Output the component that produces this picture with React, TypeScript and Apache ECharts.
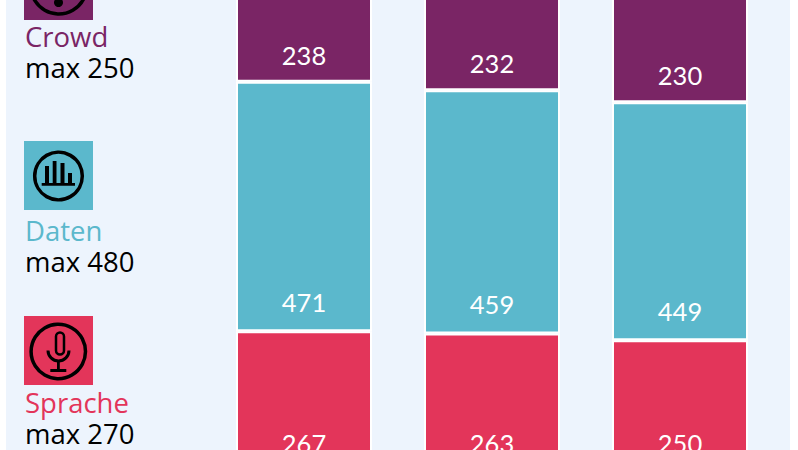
import React, { useEffect, useRef } from "react";
import * as echarts from "echarts";

const categories = ["A", "B", "C"];
const sprache = [267, 263, 250];
const daten = [471, 459, 449];
const crowd = [238, 232, 230];
const legendNames = ["Crowd", "Daten", "Sprache"];
const legendMax = ["max 250", "max 480", "max 270"];

const PURPLE = "#7A2565";
const TEAL = "#5BB8CC";
const RED = "#E3355A";
const PANEL = "#EDF4FD";
const OFFSET = 60;

const bar = (name: string, data: number[], color: string, dist: number) => ({
  name,
  type: "bar",
  stack: "total",
  data,
  barWidth: 136,
  itemStyle: { color, borderColor: "#fff", borderWidth: 2 },
  label: {
    show: true,
    position: "insideBottom",
    distance: dist,
    color: "#fff",
    fontFamily: "Lato",
    fontSize: 25.5,
    lineHeight: 28,
  },
});

const blk = (x: number, y: number, width: number, height: number) => ({
  type: "rect",
  shape: { x, y, width, height },
  style: { fill: "#000" },
});

const square = (y: number, color: string, cx: number, cy: number, r: number, children: any[]) => ({
  type: "group",
  x: 24,
  y,
  children: [
    { type: "rect", shape: { x: 0, y: 0, width: 69, height: 69 }, style: { fill: color } },
    { type: "circle", shape: { cx, cy, r }, style: { fill: "none", stroke: "#000", lineWidth: 3.5 } },
    ...children,
  ],
});

const txt = (x: number, y: number, text: string, fill: string) => ({
  type: "text",
  x,
  y,
  style: { text, fill, font: "27.5px 'Open Sans'" },
});

export default function App() {
  const ref = useRef<HTMLDivElement>(null);
  useEffect(() => {
    const chart = echarts.init(ref.current!, null, { renderer: "svg" });
    chart.setOption({
      animation: false,
      backgroundColor: "#fff",
      grid: { left: 210, width: 564, top: OFFSET - 57.2, height: 530 },
      xAxis: { type: "category", data: categories, show: false },
      yAxis: { type: "value", min: 0, max: 1000, show: false },
      graphic: [
        {
          type: "group",
          x: 0,
          y: OFFSET,
          z: -10,
          children: [
            { type: "rect", shape: { x: 6, y: -OFFSET, width: 784, height: 600 }, style: { fill: PANEL } },
            square(-49, PURPLE, 34.8, 35, 28, [
              { type: "circle", shape: { cx: 34.5, cy: 51.5, r: 4.5 }, style: { fill: "#000" } },
            ]),
            square(141, TEAL, 34.5, 35, 23.8, [
              blk(17.7, 42, 33.3, 2.7),
              blk(21, 25, 4, 17),
              blk(28.7, 20, 3.8, 22),
              blk(36.5, 22, 4, 20),
              blk(44, 32, 4, 10),
            ]),
            square(316, RED, 34.3, 35.5, 27.2, [
              {
                type: "rect",
                shape: { x: 32, y: 16.5, width: 8, height: 22, r: 4 },
                style: { fill: "none", stroke: "#000", lineWidth: 2.5 },
              },
              {
                type: "arc",
                shape: { cx: 34.5, cy: 34.5, r: 10.5, startAngle: 0, endAngle: Math.PI, clockwise: true },
                style: { fill: "none", stroke: "#000", lineWidth: 3 },
              },
              blk(33, 45, 2.8, 9),
              blk(26.3, 53, 16, 3),
            ]),
            txt(25, 22, legendNames[0], PURPLE),
            txt(25, 53, legendMax[0], "#000"),
            txt(25, 216, legendNames[1], TEAL),
            txt(25, 247, legendMax[1], "#000"),
            txt(25, 388, legendNames[2], RED),
            txt(25, 419, legendMax[2], "#000"),
          ],
        },
      ],
      series: [bar("Sprache", sprache, RED, 16), bar("Daten", daten, TEAL, 15), bar("Crowd", crowd, PURPLE, 13)],
    });
    return () => chart.dispose();
  }, []);
  return (
    <div style={{ position: "fixed", left: 0, top: 0, width: 798, height: 450, overflow: "hidden" }}>
      <div ref={ref} style={{ position: "absolute", left: 0, top: -OFFSET, width: 798, height: 600 }} />
    </div>
  );
}
